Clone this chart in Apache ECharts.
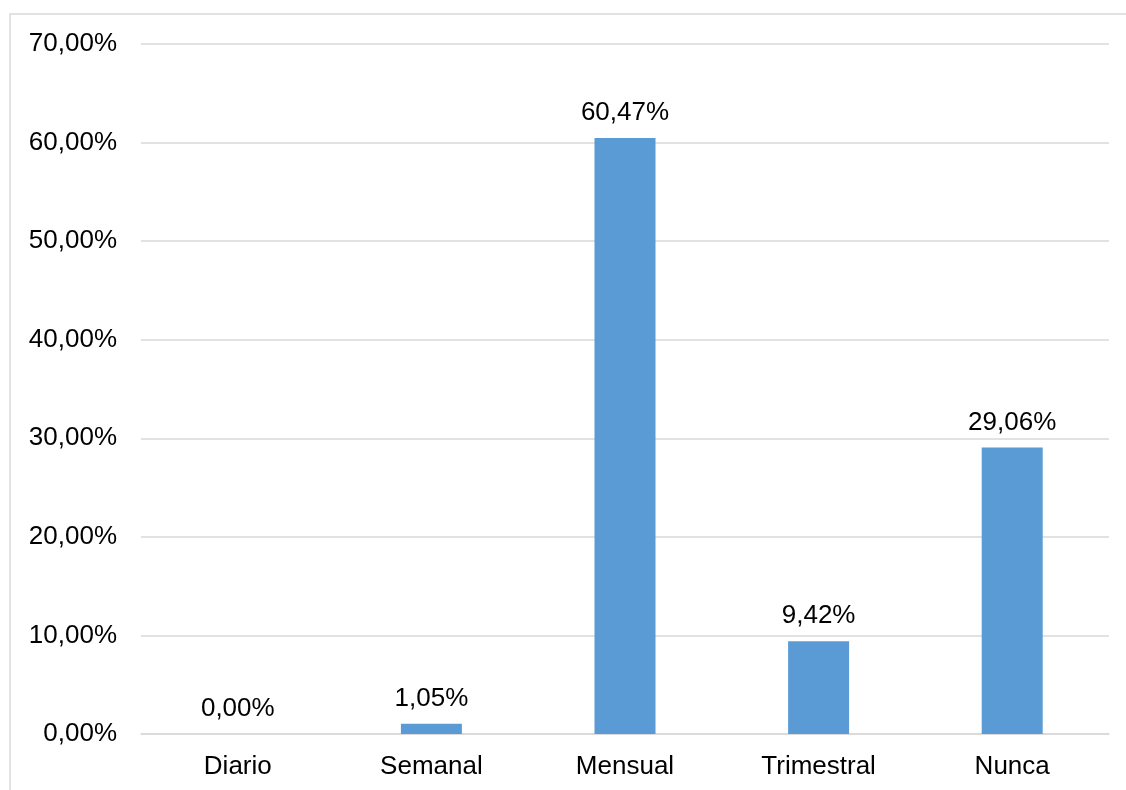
<!DOCTYPE html>
<html>
<head>
<meta charset="utf-8">
<script src="https://cdn.jsdelivr.net/npm/echarts@6/dist/echarts.min.js"></script>
<style>
  html, body { margin: 0; padding: 0; background: #fff; }
  #chart { width: 1126px; height: 790px; }
</style>
</head>
<body>
<div id="chart"></div>
<script>
// Frecuencia de uso (porcentaje de respuestas)
const categories = ['Diario', 'Semanal', 'Mensual', 'Trimestral', 'Nunca'];
const values = [0.00, 1.05, 60.47, 9.42, 29.06];
const yMin = 0, yMax = 70, yStep = 10;

const pct = v => v.toFixed(2).replace('.', ',') + '%';
const FONT = 'Liberation Sans, Arial, sans-serif';
const GRID = '#d9d9d9';

const chart = echarts.init(document.getElementById('chart'));
chart.setOption({
  backgroundColor: '#fff',
  animation: false,
  graphic: [{
    type: 'rect',
    shape: { x: 10, y: 14, width: 1140, height: 800 },
    style: { fill: 'none', stroke: GRID, lineWidth: 1.5 },
    silent: true
  }],
  grid: { left: 141, right: 17, top: 44, bottom: 56 },
  xAxis: {
    type: 'category',
    data: categories,
    axisLine: { show: true, lineStyle: { color: GRID, width: 1.5 } },
    axisTick: { show: false },
    axisLabel: { color: '#000', fontFamily: FONT, fontSize: 26, margin: 20 }
  },
  yAxis: {
    type: 'value',
    min: yMin, max: yMax, interval: yStep,
    axisLine: { show: false },
    axisTick: { show: false },
    splitLine: { lineStyle: { color: GRID, width: 1.5 } },
    axisLabel: { color: '#000', fontFamily: FONT, fontSize: 26, margin: 24, formatter: v => pct(v) }
  },
  series: [{
    type: 'bar',
    data: values,
    barWidth: 61,
    itemStyle: { color: '#5b9bd5' },
    label: {
      show: true, position: 'top', distance: 12,
      color: '#000', fontFamily: FONT, fontSize: 26,
      formatter: p => pct(p.value)
    }
  }]
});
</script>
</body>
</html>
